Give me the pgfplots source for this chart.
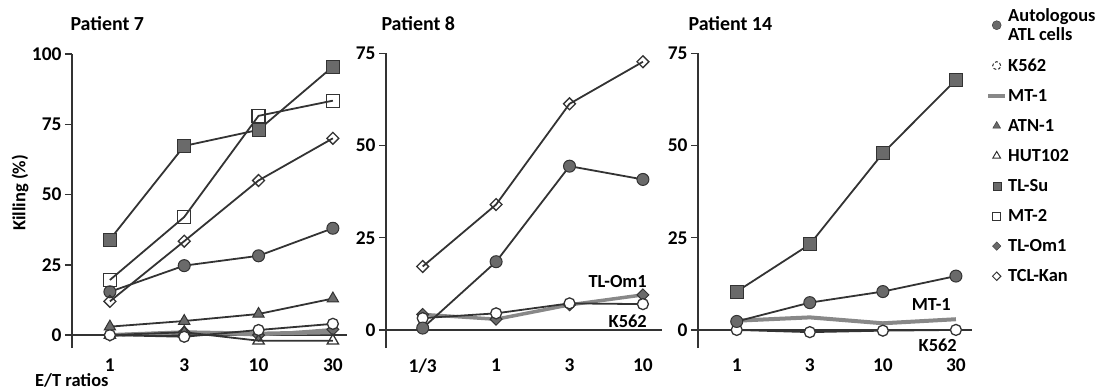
\documentclass[border=0pt]{standalone}
\usepackage{pgfplots}
\pgfplotsset{compat=1.18}
\usepackage{fontspec}
\setmainfont{Carlito}
\definecolor{ln}{HTML}{333333}
\definecolor{fl}{HTML}{6A6A6A}
\definecolor{mt}{HTML}{888888}
\newcommand{\fs}[1]{\bfseries\fontsize{#1}{#1}\selectfont}
\pgfplotsset{
  panel/.style={
    scale only axis, anchor=south west,
    axis y line*=left, axis x line*=bottom,
    x axis line style={draw=none},
    y axis line style={ln, line width=1.4bp},
    xtick={0,1,2,3},
    x tick style={draw=none},
    y tick style={ln, line width=1.4bp},
    tick align=outside, major tick length=7bp,
    clip=false,
    ticklabel style={font=\fs{19.5}},
    /pgf/number format/assume math mode=true,
    every axis plot/.append style={line width=1.8bp, ln},
  },
  auto/.style={mark=*, mark size=6bp, mark options={fill=fl, draw=ln, line width=1bp}},
  tlsu/.style={mark=square*, mark size=6.5bp, mark options={fill=fl, draw=ln, line width=1bp}},
  mttwo/.style={mark=square, mark size=6.5bp, mark options={fill=white, draw=ln, line width=1.3bp}},
  tclkan/.style={mark=square, mark size=4.2bp, mark options={rotate=45, fill=white, draw=ln, line width=1.3bp}},
  tlom/.style={mark=square*, mark size=4.2bp, mark options={rotate=45, fill=fl, draw=ln, line width=1bp}},
  atn/.style={mark=triangle*, mark size=6.5bp, mark options={fill=fl, draw=ln, line width=1bp}},
  hut/.style={mark=triangle, mark size=6.5bp, mark options={fill=white, draw=ln, line width=1.3bp}},
  kfive/.style={mark=*, mark size=5.5bp, mark options={fill=white, draw=ln, line width=1.3bp}},
  mtone/.style={no marks, mt, line width=4bp},
}
\begin{document}
\begin{tikzpicture}
\useasboundingbox (0bp,0bp) rectangle (1103bp,391bp);
% Panel 1
\begin{axis}[panel, at={(72bp,43bp)}, width=275bp, height=294bp,
  xmin=-0.51, xmax=3.19, ymin=-4.6, ymax=100,
  ytick={0,25,50,75,100}, xticklabels={1,3,10,30}]
\draw[ln, line width=1.4bp] (axis cs:-0.51,0) -- (axis cs:3.19,0);
\addplot[mtone] coordinates {(0,0) (1,1) (2,0.5) (3,1)};
\addplot[tlom, mt, line width=3bp] coordinates {(0,0) (1,1) (2,0) (3,2)};
\addplot[hut] coordinates {(0,0) (1,1) (2,-2) (3,-2)};
\addplot[kfive] coordinates {(0,0) (1,-0.6) (2,1.8) (3,4)};
\addplot[atn] coordinates {(0,3) (1,5) (2,7.5) (3,13)};
\addplot[auto] coordinates {(0,15.4) (1,24.7) (2,28.2) (3,38)};
\addplot[tclkan] coordinates {(0,12) (1,33.4) (2,55) (3,70)};
\addplot[mttwo] coordinates {(0,19.6) (1,42) (2,78) (3,83.4)};
\addplot[tlsu] coordinates {(0,34) (1,67.3) (2,73) (3,95.5)};
\end{axis}
% Panel 2
\begin{axis}[panel, at={(386bp,43bp)}, width=276bp, height=294.7bp,
  xmin=-0.5, xmax=3.26, ymin=-4.9, ymax=75,
  ytick={0,25,50,75}, xticklabels={1/3,1,3,10}]
\draw[ln, line width=1.4bp] (axis cs:-0.5,0) -- (axis cs:3.26,0);
\addplot[tlom, mt, line width=3.5bp] coordinates {(0,4.2) (1,2.9) (2,6.8) (3,9.5)};
\addplot[kfive] coordinates {(0,3.2) (1,4.5) (2,7.2) (3,7)};
\addplot[auto] coordinates {(0,0.5) (1,18.5) (2,44.4) (3,40.8)};
\addplot[tclkan] coordinates {(0,17.2) (1,34) (2,61.3) (3,72.7)};
\end{axis}
% Panel 3
\begin{axis}[panel, at={(698bp,43bp)}, width=274bp, height=294.7bp,
  xmin=-0.53, xmax=3.22, ymin=-4.9, ymax=75,
  ytick={0,25,50,75}, xticklabels={1,3,10,30}]
\draw[ln, line width=1.4bp] (axis cs:-0.53,0) -- (axis cs:3.22,0);
\addplot[mtone] coordinates {(0,2.5) (1,3.4) (2,1.8) (3,2.9)};
\addplot[kfive] coordinates {(0,0) (1,-0.6) (2,-0.2) (3,0)};
\addplot[auto] coordinates {(0,2.3) (1,7.4) (2,10.4) (3,14.6)};
\addplot[tlsu] coordinates {(0,10.4) (1,23.2) (2,47.9) (3,67.8)};
\end{axis}
% Legend
\begin{axis}[at={(983bp,0bp)}, anchor=south west, scale only axis, width=110bp, height=391bp,
  hide axis, xmin=0, xmax=1, ymin=0, ymax=1,
  legend style={draw=none, fill=none, at={(axis description cs:0,0.987)}, anchor=north west,
    font=\fs{18.5}, row sep=14.5bp, nodes={align=left, inner sep=1bp},
    /tikz/every even column/.append style={column sep=8bp}},
  legend cell align=left]
\addlegendimage{only marks, mark=*, mark size=4.5bp, mark options={fill=fl, draw=ln}}
\addlegendentry{Autologous\\[1bp]ATL cells}
\addlegendimage{only marks, mark=*, mark size=4bp, mark options={fill=white, draw=ln, line width=1bp, densely dashed}}
\addlegendentry{K562}
\addlegendimage{mt, line width=4bp, legend image code/.code={\draw[mt, line width=4bp] (0.0cm,0cm) -- (0.6cm,0cm);}}
\addlegendentry{MT-1}
\addlegendimage{only marks, mark=triangle*, mark size=4.5bp, mark options={fill=fl, draw=ln}}
\addlegendentry{ATN-1}
\addlegendimage{only marks, mark=triangle, mark size=4.5bp, mark options={fill=white, draw=ln, line width=1bp}}
\addlegendentry{HUT102}
\addlegendimage{only marks, mark=square*, mark size=4bp, mark options={fill=fl, draw=ln}}
\addlegendentry{TL-Su}
\addlegendimage{only marks, mark=square, mark size=4bp, mark options={fill=white, draw=ln, line width=1bp}}
\addlegendentry{MT-2}
\addlegendimage{only marks, mark=square*, mark size=3bp, mark options={rotate=45, fill=fl, draw=ln}}
\addlegendentry{TL-Om1}
\addlegendimage{only marks, mark=square, mark size=3bp, mark options={rotate=45, fill=white, draw=ln, line width=1bp}}
\addlegendentry{TCL-Kan}
\end{axis}
% Texts
\node[anchor=west, font=\fs{20}] at (67bp,367bp) {Patient 7};
\node[anchor=west, font=\fs{20}] at (378bp,367bp) {Patient 8};
\node[anchor=west, font=\fs{20}] at (685bp,367bp) {Patient 14};
\node[rotate=90, font=\fs{18.5}] at (20bp,198bp) {Killing (\%)};
\node[anchor=west, font=\fs{18.5}, inner sep=0pt] at (35bp,11bp) {E/T ratios};
\node[anchor=east, font=\fs{18.5}, inner sep=0pt] at (647bp,109bp) {TL-Om1};
\node[anchor=east, font=\fs{18.5}, inner sep=0pt] at (647bp,70bp) {K562};
\node[anchor=east, font=\fs{18.5}, inner sep=0pt] at (951bp,86bp) {MT-1};
\node[anchor=east, font=\fs{18.5}, inner sep=0pt] at (957bp,46bp) {K562};
\end{tikzpicture}
\end{document}
